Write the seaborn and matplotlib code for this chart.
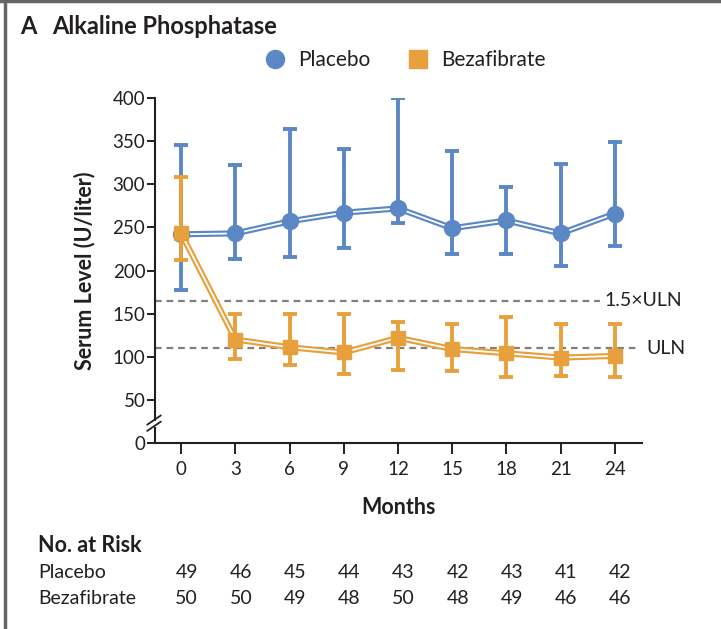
import matplotlib
matplotlib.use("Agg")
import matplotlib.pyplot as plt
import matplotlib.transforms as mtransforms
from matplotlib.lines import Line2D
import seaborn as sns
import pandas as pd

sns.set_theme(style="white")
plt.rcParams["font.family"] = ["Lato", "DejaVu Sans"]

# ---- data -------------------------------------------------------------
months = [0, 3, 6, 9, 12, 15, 18, 21, 24]

placebo_mean = [242, 243, 257, 267, 272, 249, 258, 243, 266]
placebo_upper = [345, 322, 364, 341, 400, 338, 297, 324, 349]
placebo_lower = [177, 213, 216, 226, 255, 219, 219, 205, 228]

beza_mean = [243, 120, 111, 105, 122, 109, 104, 99, 101]
beza_upper = [308, 150, 150, 150, 140, 138, 146, 138, 138]
beza_lower = [212, 97, 90, 80, 85, 83, 76, 78, 76]

uln = 110
uln_15 = 165

risk_placebo = [49, 46, 45, 44, 43, 42, 43, 41, 42]
risk_beza = [50, 50, 49, 48, 50, 48, 49, 46, 46]

blue = "#5B87C5"
orange = "#E8A03D"
ink = "#231F20"

df = pd.concat([
    pd.DataFrame({"Months": months, "value": placebo_mean,
                  "upper": placebo_upper, "lower": placebo_lower,
                  "group": "Placebo"}),
    pd.DataFrame({"Months": months, "value": beza_mean,
                  "upper": beza_upper, "lower": beza_lower,
                  "group": "Bezafibrate"}),
], ignore_index=True)

# ---- figure ---------------------------------------------------------------
fig = plt.figure(figsize=(7.21, 6.29), dpi=100)
ax = fig.add_axes([155 / 721, 1 - 443 / 629, (642 - 155) / 721, (443 - 98) / 629])

ax.set_xlim(-1.45, 25.5)
ax.set_ylim(0, 400)

# dashed reference lines
ax.plot([-1.45, 23.2], [uln_15, uln_15], ls=(0, (3, 2.2)), color="#808080", lw=1.6, zorder=1)
ax.plot([-1.45, 25.15], [uln, uln], ls=(0, (3, 2.2)), color="#808080", lw=1.6, zorder=1)
ax.text(23.4, uln_15, "1.5\u00d7ULN", va="center", ha="left", fontsize=14, color=ink)
ax.text(25.75, uln, "ULN", va="center", ha="left", fontsize=14, color=ink)

styles = {"Placebo": (blue, "o", 11.5), "Bezafibrate": (orange, "s", 10.5)}
for i, (name, (col, mk, ms)) in enumerate(styles.items()):
    sub = df[df["group"] == name]
    z = 3 + i * 4
    ax.errorbar(sub["Months"], sub["value"],
                yerr=[sub["value"] - sub["lower"], sub["upper"] - sub["value"]],
                fmt="none", ecolor=col, elinewidth=2.8, capsize=5, capthick=2.8,
                zorder=z)
    # double line: coloured outer stroke with a white core
    sns.lineplot(data=sub, x="Months", y="value", ax=ax, color=col, lw=4.4,
                 legend=False, zorder=z + 1)
    sns.lineplot(data=sub, x="Months", y="value", ax=ax, color="white", lw=1.3,
                 legend=False, zorder=z + 2)
    ax.plot(sub["Months"], sub["value"], ls="none", marker=mk, ms=ms,
            color=col, mec=col, zorder=z + 3)

# axes styling
for s in ["top", "right"]:
    ax.spines[s].set_visible(False)
for s in ["left", "bottom"]:
    ax.spines[s].set_color(ink)
    ax.spines[s].set_linewidth(1.5)
ax.set_xticks(months)
ax.set_xticklabels([str(m) for m in months])
ax.set_yticks([0, 50, 100, 150, 200, 250, 300, 350, 400])
ax.tick_params(axis="y", length=6, width=1.4, color=ink, labelsize=13.5,
               labelcolor=ink, pad=1, left=True)
ax.tick_params(axis="x", length=8, width=1.4, color=ink, labelsize=13.5,
               labelcolor=ink, pad=5, bottom=True)
ax.set_xlabel("Months", fontsize=15.5, fontweight="bold", color=ink, labelpad=14)
ax.set_ylabel("Serum Level (U/liter)", fontsize=15.5, fontweight="bold", color=ink, labelpad=12)
ax.grid(False)

# axis break marks between 0 and 50
brk = ax.transAxes
ax.add_patch(plt.Rectangle((-0.01, 0.045), 0.02, 0.02, transform=brk,
                           facecolor="white", edgecolor="none", clip_on=False, zorder=20))
for dy in (0.0, 0.018):
    ax.add_line(Line2D([-0.016, 0.012], [0.035 + dy, 0.062 + dy], transform=brk,
                       color=ink, lw=1.3, clip_on=False, zorder=21))

# legend
handles = [
    Line2D([], [], ls="none", marker="o", ms=13, color=blue, label="Placebo"),
    Line2D([], [], ls="none", marker="s", ms=13, color=orange, label="Bezafibrate"),
]
fig.legend(handles=handles, loc="center", bbox_to_anchor=(400 / 721, 1 - 60 / 629),
           ncol=2, frameon=False, fontsize=15, handletextpad=0.1, columnspacing=1.3,
           labelcolor=ink)

# panel title
fig.text(20 / 721, 1 - 27 / 629, "A", fontsize=17, fontweight="bold", color=ink, va="center")
fig.text(52 / 721, 1 - 27 / 629, "Alkaline Phosphatase", fontsize=17, fontweight="bold",
         color=ink, va="center")

# number at risk table
fig.text(38 / 721, 1 - 545 / 629, "No. at Risk", fontsize=15.5, fontweight="bold",
         color=ink, va="center")
fig.text(38 / 721, 1 - 572 / 629, "Placebo", fontsize=14, color=ink, va="center")
fig.text(38 / 721, 1 - 598 / 629, "Bezafibrate", fontsize=14, color=ink, va="center")
blend = mtransforms.blended_transform_factory(ax.transData, fig.transFigure)
for m, a, b in zip(months, risk_placebo, risk_beza):
    ax.text(m + 0.3, 1 - 572 / 629, str(a), transform=blend, ha="center", va="center",
            fontsize=14, color=ink)
    ax.text(m + 0.3, 1 - 598 / 629, str(b), transform=blend, ha="center", va="center",
            fontsize=14, color=ink)

# panel frame (top and left rules)
fig.add_artist(Line2D([0, 1], [1 - 1 / 629, 1 - 1 / 629], transform=fig.transFigure,
                      color="#666666", lw=2.5))
fig.add_artist(Line2D([4.5 / 721, 4.5 / 721], [0, 1], transform=fig.transFigure,
                      color="#666666", lw=2.5))

fig.savefig("out.png", dpi=100)
